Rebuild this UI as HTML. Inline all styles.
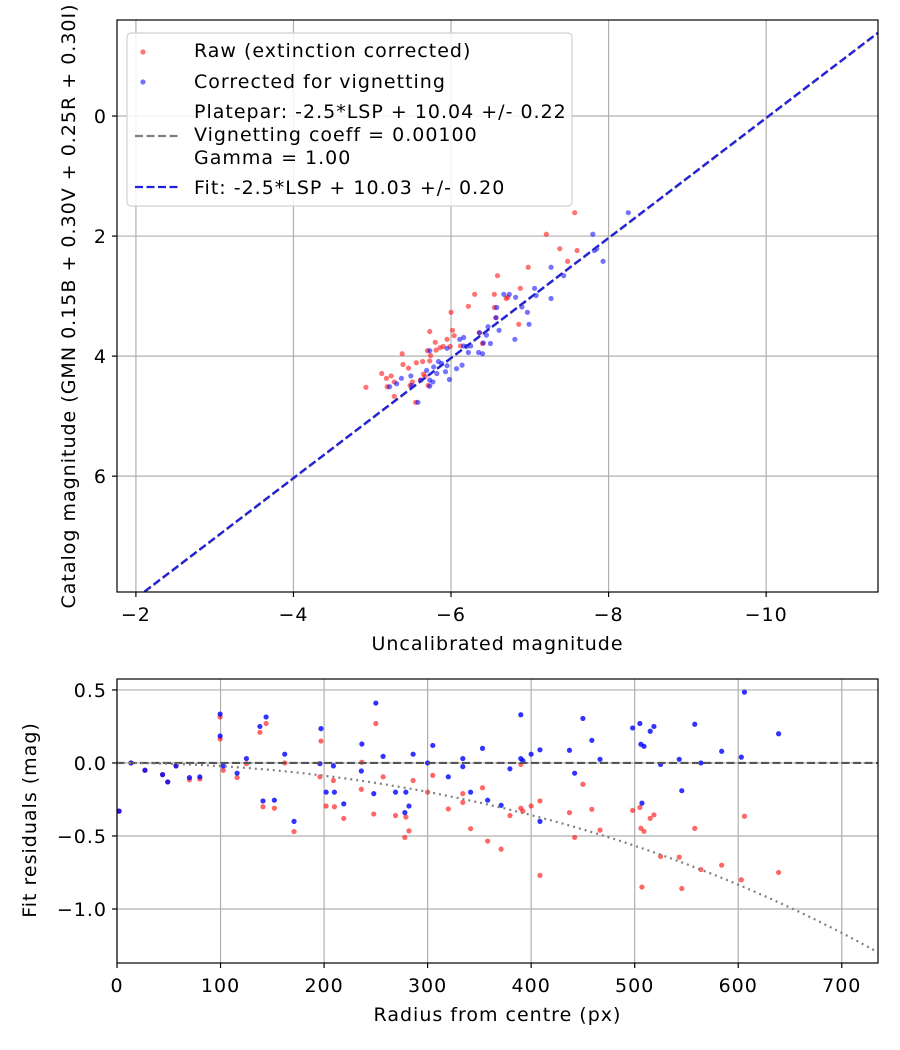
<!DOCTYPE html>
<html><head><meta charset="utf-8"><style>
html,body{margin:0;padding:0;background:#fff}
svg{display:block;font-family:"DejaVu Sans","Liberation Sans",sans-serif}
svg text{letter-spacing:1px}
</style></head><body>
<svg id="fig" width="900" height="1050" viewBox="0 0 900 1050">
<rect width="900" height="1050" fill="#fff"/>
<g id="topPlot"></g>
<g id="botPlot"></g>
</svg>
<script>
// ---- Top chart data ----
const rawX=[-7.57,-7.21,-7.38,-7.60,-7.48,-6.98,-6.59,-6.88,-6.30,-6.55,-6.70,-6.72,-6.22,-6.55,-6.00,-6.86,-5.73,-6.02,-6.04,-5.95,-5.80,-5.86,-5.90,-5.38,-5.70,-5.64,-5.73,-5.56,-5.39,-5.46,-5.12,-5.24,-5.18,-5.28,-5.65,-5.61,-5.67,-5.51,-4.92,-5.19,-5.48,-5.71,-5.28,-5.55,-6.12,-5.99,-5.81,-5.74,-6.40,-6.36,-6.57];
const rawY=[1.61,1.97,2.21,2.24,2.42,2.52,2.66,2.87,2.97,2.97,3.04,3.02,3.17,3.19,3.27,3.47,3.59,3.57,3.66,3.72,3.77,3.86,3.84,3.96,3.91,4.09,4.08,4.11,4.14,4.20,4.29,4.33,4.37,4.43,4.30,4.40,4.34,4.43,4.52,4.51,4.49,4.49,4.67,4.77,3.83,3.84,3.90,3.99,3.79,3.61,3.36];
const corX=[-8.25,-7.80,-7.85,-7.82,-7.93,-7.27,-7.43,-7.06,-7.08,-7.27,-6.67,-6.74,-6.82,-6.58,-6.90,-6.97,-6.57,-6.99,-6.47,-6.61,-6.36,-6.45,-6.16,-6.11,-6.81,-6.41,-6.50,-6.16,-6.20,-6.25,-5.95,-6.22,-6.35,-6.40,-5.73,-5.84,-5.88,-5.95,-5.78,-6.14,-6.07,-5.93,-5.69,-5.82,-5.73,-5.49,-5.37,-5.31,-5.22,-5.77,-5.98,-5.73,-5.58,-5.50,-5.62];
const corY=[1.61,1.97,2.21,2.24,2.42,2.52,2.66,2.87,2.99,3.04,2.97,2.97,3.02,3.19,3.18,3.27,3.36,3.47,3.51,3.57,3.61,3.65,3.69,3.72,3.72,3.78,3.79,3.83,3.84,3.83,3.87,3.94,3.94,3.96,3.91,4.09,4.12,4.16,4.18,4.15,4.21,4.26,4.24,4.29,4.40,4.33,4.37,4.46,4.51,4.43,4.39,4.50,4.77,4.49,4.40];
const fitZP=10.03, plateZP=10.04;
const topXTicks=[-2,-4,-6,-8,-10];
const topYTicks=[0,2,4,6];
// ---- Bottom chart data ----
const radius=[2,13.5,27,44,49,57,70,80,99.6,99.6,102.6,116,125,138,144,141,152,162,171,197,196,202,210,209,219,236.5,236,250,248,257,269,279,278,282,286,300,305,320,334,334,341.5,353,358,371,379.5,390,390,392,400,408.5,408.5,437,442,450,458.6,466.5,498,505,506,509,507,515,518.6,525,543,545.5,558,564,584,603,606,639];
const resRaw=[-0.33,0,-0.05,-0.08,-0.13,-0.02,-0.115,-0.11,0.315,0.165,-0.05,-0.10,-0.005,0.21,0.27,-0.30,-0.31,0.0,-0.47,0.15,-0.095,-0.295,-0.30,-0.12,-0.38,0.005,-0.18,0.27,-0.35,-0.095,-0.36,-0.37,-0.51,-0.465,-0.12,-0.2,-0.085,-0.315,-0.27,-0.21,-0.45,-0.17,-0.535,-0.59,-0.36,-0.01,-0.31,-0.33,-0.295,-0.26,-0.77,-0.34,-0.51,-0.146,-0.317,-0.46,-0.325,-0.305,-0.447,-0.468,-0.85,-0.379,-0.355,-0.64,-0.645,-0.86,-0.448,-0.73,-0.70,-0.80,-0.365,-0.75];
const resCor=[-0.33,0,-0.05,-0.08,-0.13,-0.02,-0.10,-0.095,0.335,0.185,-0.02,-0.07,0.03,0.25,0.315,-0.26,-0.255,0.06,-0.40,0.235,-0.005,-0.20,-0.20,-0.02,-0.28,0.13,-0.055,0.41,-0.21,0.045,-0.2,-0.2,-0.34,-0.295,0.06,0.0,0.12,-0.095,-0.025,0.03,-0.2,0.1,-0.255,-0.29,-0.04,0.33,0.03,0.015,0.06,0.09,-0.40,0.087,-0.07,0.305,0.155,0.025,0.24,0.27,0.128,0.114,-0.275,0.217,0.25,-0.01,0.025,-0.19,0.265,0,0.08,0.04,0.485,0.20];
const vigCoeff=0.001;
const botXTicks=[0,100,200,300,400,500,600,700];
const botYTicks=[0.5,0.0,-0.5,-1.0];
const botYLabels=["0.5","0.0","\u22120.5","\u22121.0"];

const NS="http://www.w3.org/2000/svg";
const FS=19;
function mk(parent,tag,attrs){const e=document.createElementNS(NS,tag);for(const k in attrs)e.setAttribute(k,attrs[k]);parent.appendChild(e);return e;}
function fmt(v){return v<0?"\u2212"+Math.abs(v):""+v;}

// ===== TOP =====
const T={l:117,r:878,t:20,b:592,x0:-1.76,x1:-11.42,y0:-1.6,y1:7.93};
const tx=v=>T.l+(v-T.x0)/(T.x1-T.x0)*(T.r-T.l);
const ty=v=>T.t+(v-T.y0)/(T.y1-T.y0)*(T.b-T.t);
const topG=document.getElementById('topPlot');
const clipT=mk(topG,'clipPath',{id:'ct'});mk(clipT,'rect',{x:T.l,y:T.t,width:T.r-T.l,height:T.b-T.t});
topXTicks.forEach(v=>{
 const g=mk(topG,'line',{x1:tx(v),x2:tx(v),y1:T.t,y2:T.b,stroke:'#b0b0b0','stroke-width':1.2});
 
 
 mk(topG,'line',{x1:tx(v),x2:tx(v),y1:T.b,y2:T.b+5,stroke:'#000','stroke-width':1.2});
 const t=mk(topG,'text',{x:tx(v),y:T.b+29,'font-size':FS,'text-anchor':'middle'});t.textContent=fmt(v);
 
 
});
topYTicks.forEach(v=>{
 const g=mk(topG,'line',{x1:T.l,x2:T.r,y1:ty(v),y2:ty(v),stroke:'#b0b0b0','stroke-width':1.2});
 
 
 mk(topG,'line',{x1:T.l-5,x2:T.l,y1:ty(v),y2:ty(v),stroke:'#000','stroke-width':1.2});
 const t=mk(topG,'text',{x:T.l-10,y:ty(v)+7,'font-size':FS,'text-anchor':'end'});t.textContent=fmt(v);
 
 
});
const pts=mk(topG,'g',{'clip-path':'url(#ct)'});
rawX.forEach((v,i)=>{const c=mk(pts,'circle',{cx:tx(v),cy:ty(rawY[i]),r:2.6,fill:'red','fill-opacity':0.55});
 
 });
corX.forEach((v,i)=>{const c=mk(pts,'circle',{cx:tx(v),cy:ty(corY[i]),r:2.6,fill:'blue','fill-opacity':0.55});
 
 });
const pl=mk(pts,'line',{x1:tx(T.x0),y1:ty(T.x0+plateZP),x2:tx(T.x1),y2:ty(T.x1+plateZP),stroke:'#808080','stroke-width':2.2,'stroke-dasharray':'8 3.5'});


const fl=mk(pts,'line',{x1:tx(T.x0),y1:ty(T.x0+fitZP),x2:tx(T.x1),y2:ty(T.x1+fitZP),stroke:'#2020dd','stroke-width':2.2,'stroke-dasharray':'8 3.5'});


mk(topG,'rect',{x:T.l,y:T.t,width:T.r-T.l,height:T.b-T.t,fill:'none',stroke:'#000','stroke-width':1.2});
let xl=mk(topG,'text',{x:(T.l+T.r)/2,y:650,'font-size':FS,'text-anchor':'middle'});xl.textContent='Uncalibrated magnitude';


let yl=mk(topG,'text',{x:0,y:0,'font-size':FS,'text-anchor':'middle',transform:'translate(75,306) rotate(-90)'});yl.textContent='Catalog magnitude (GMN 0.15B + 0.30V + 0.25R + 0.30I)';


// legend
const lg=mk(topG,'g',{});


mk(lg,'rect',{x:127,y:33,width:445,height:173,rx:4,fill:'#fff','fill-opacity':0.85,stroke:'#d0d0d0','stroke-width':1.2});
mk(lg,'circle',{cx:143,cy:52,r:2.6,fill:'red','fill-opacity':0.55});
mk(lg,'circle',{cx:143,cy:82,r:2.6,fill:'blue','fill-opacity':0.55});
mk(lg,'line',{x1:135,x2:178,y1:136,y2:136,stroke:'#808080','stroke-width':2.2,'stroke-dasharray':'8 3.5'});
mk(lg,'line',{x1:135,x2:178,y1:187,y2:187,stroke:'#2020dd','stroke-width':2.2,'stroke-dasharray':'8 3.5'});
[['Raw (extinction corrected)',57],['Corrected for vignetting',88],['Platepar: -2.5*LSP + 10.04 +/- 0.22',118],['Vignetting coeff = 0.00100',141],['Gamma = 1.00',164],['Fit: -2.5*LSP + 10.03 +/- 0.20',194]].forEach(([s,y])=>{
 const t=mk(lg,'text',{x:194,y:y,'font-size':FS});t.textContent=s;
 
 });

// ===== BOTTOM =====
const B={l:117,r:878,t:679,b:963,x0:0,x1:735,y0:0.575,y1:-1.37};
const bx=v=>B.l+(v-B.x0)/(B.x1-B.x0)*(B.r-B.l);
const by=v=>B.t+(v-B.y0)/(B.y1-B.y0)*(B.b-B.t);
const botG=document.getElementById('botPlot');
const clipB=mk(botG,'clipPath',{id:'cb'});mk(clipB,'rect',{x:B.l,y:B.t,width:B.r-B.l,height:B.b-B.t});
botXTicks.forEach(v=>{
 const g=mk(botG,'line',{x1:bx(v),x2:bx(v),y1:B.t,y2:B.b,stroke:'#b0b0b0','stroke-width':1.2});
 
 
 mk(botG,'line',{x1:bx(v),x2:bx(v),y1:B.b,y2:B.b+5,stroke:'#000','stroke-width':1.2});
 const t=mk(botG,'text',{x:bx(v),y:B.b+29,'font-size':FS,'text-anchor':'middle'});t.textContent=v;
 
 
});
botYTicks.forEach((v,i)=>{
 const g=mk(botG,'line',{x1:B.l,x2:B.r,y1:by(v),y2:by(v),stroke:'#b0b0b0','stroke-width':1.2});
 
 
 mk(botG,'line',{x1:B.l-5,x2:B.l,y1:by(v),y2:by(v),stroke:'#000','stroke-width':1.2});
 const t=mk(botG,'text',{x:B.l-10,y:by(v)+7,'font-size':FS,'text-anchor':'end'});t.textContent=botYLabels[i];
 
 
});
const bp=mk(botG,'g',{'clip-path':'url(#cb)'});
radius.forEach((r,i)=>{const c=mk(bp,'circle',{cx:bx(r),cy:by(resRaw[i]),r:2.6,fill:'red','fill-opacity':0.6});
 
 });
radius.forEach((r,i)=>{const c=mk(bp,'circle',{cx:bx(r),cy:by(resCor[i]),r:2.6,fill:'blue','fill-opacity':0.8});
 
 });
const zl=mk(bp,'line',{x1:B.l,x2:B.r,y1:by(0),y2:by(0),stroke:'#555','stroke-width':2.2,'stroke-dasharray':'8 3.5'});


let d='';for(let r=0;r<=B.x1;r+=5){const c=Math.cos(vigCoeff*r);const m=2.5*Math.log10(Math.pow(c,4));d+=(r?'L':'M')+bx(r).toFixed(1)+','+by(m).toFixed(1);}
const vc=mk(bp,'path',{d:d,fill:'none',stroke:'#808080','stroke-width':2.2,'stroke-dasharray':'2 4'});


mk(botG,'rect',{x:B.l,y:B.t,width:B.r-B.l,height:B.b-B.t,fill:'none',stroke:'#000','stroke-width':1.2});
xl=mk(botG,'text',{x:(B.l+B.r)/2,y:1021,'font-size':FS,'text-anchor':'middle'});xl.textContent='Radius from centre (px)';


yl=mk(botG,'text',{x:0,y:0,'font-size':FS,'text-anchor':'middle',transform:'translate(36,820) rotate(-90)'});yl.textContent='Fit residuals (mag)';


</script>
</body></html>
